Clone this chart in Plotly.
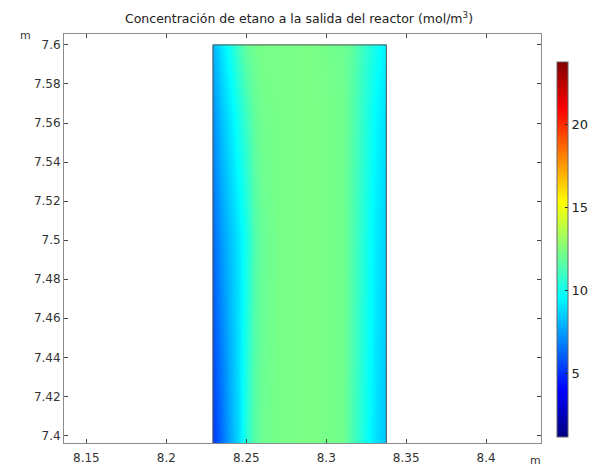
import plotly.graph_objects as go

# ---- data ----
# x positions (m) of sampled columns across the reactor outlet
x_cols = [8.2293, 8.2300, 8.235, 8.24, 8.245, 8.25, 8.255, 8.26, 8.27, 8.29,
          8.31, 8.316, 8.321, 8.326, 8.331, 8.3368, 8.3374]
# y positions (m) of sampled rows
y_rows = [7.385, 7.5, 7.565, 7.598, 7.5995]

# concentration (mol/m^3) per row (bottom -> top)
row_7385 = [5.3, 5.4, 6.5, 7.8, 8.9, 10.6, 11.7, 12.1, 12.3, 12.4, 12.2, 11.4, 10.6, 9.8, 9.0, 8.4, 8.3]
row_7500 = [6.4, 6.6, 7.6, 8.4, 9.2, 10.2, 11.5, 12.0, 12.3, 12.4, 12.2, 11.5, 10.8, 10.0, 9.3, 8.7, 8.6]
row_7565 = [7.3, 7.5, 8.5, 9.3, 10.2, 11.1, 11.9, 12.2, 12.3, 12.4, 12.2, 11.6, 11.0, 10.3, 9.6, 9.0, 8.9]
row_7598 = [8.1, 8.2, 9.2, 10.1, 11.1, 11.9, 12.2, 12.3, 12.3, 12.4, 12.1, 11.8, 11.2, 10.6, 10.0, 9.4, 9.3]
row_7600 = [8.2, 8.3, 9.3, 10.2, 11.2, 12.0, 12.2, 12.3, 12.3, 12.4, 12.1, 11.8, 11.2, 10.6, 10.0, 9.4, 9.3]

# domain of the outlet section (m)
domain_x = [8.2292, 8.3376]
domain_y_top = 7.6

# colour range
c_min, c_max = 1.2, 23.8
cbar_ticks = [5, 10, 15, 20]

x_ticks = [8.15, 8.2, 8.25, 8.3, 8.35, 8.4]
x_ticktext = ["8.15", "8.2", "8.25", "8.3", "8.35", "8.4"]
y_ticks = [7.4, 7.42, 7.44, 7.46, 7.48, 7.5, 7.52, 7.54, 7.56, 7.58, 7.6]
y_ticktext = ["7.4", "7.42", "7.44", "7.46", "7.48", "7.5", "7.52", "7.54", "7.56", "7.58", "7.6"]

title_text = "Concentración de etano a la salida del reactor (mol/m<sup>3</sup>)"

jet = [[0.0, "rgb(0,0,128)"], [0.125, "rgb(0,0,255)"], [0.375, "rgb(0,255,255)"],
       [0.625, "rgb(255,255,0)"], [0.875, "rgb(255,0,0)"], [1.0, "rgb(128,0,0)"]]

z = [row_7385, row_7500, row_7565, row_7598, row_7600]

W, H = 593, 470
ml, mr, mt, mb = 64, 1, 34, 26.7
pw = W - ml - mr
ph = H - mt - mb
plot_right = 540.5

fig = go.Figure()
fig.add_trace(go.Heatmap(
    x=x_cols, y=y_rows, z=z, zsmooth="best",
    colorscale=jet, zmin=c_min, zmax=c_max,
    colorbar=dict(
        thickness=11, thicknessmode="pixels",
        len=375, lenmode="pixels",
        x=(557 - ml) / pw, xanchor="left", xpad=0,
        y=(H - mb - 249.5) / ph, yanchor="middle", ypad=0,
        outlinewidth=1, outlinecolor="#666",
        tickvals=cbar_ticks, ticktext=[str(v) for v in cbar_ticks],
        ticks="inside", ticklen=3, tickcolor="#222",
        tickfont=dict(family="DejaVu Sans", size=13, color="#222"),
    ),
    hoverinfo="skip",
))

fig.add_shape(type="rect", x0=domain_x[0], x1=domain_x[1], y0=7.3, y1=domain_y_top,
              line=dict(color="#555", width=1), fillcolor="rgba(0,0,0,0)", layer="above")

axis_common = dict(
    showline=True, mirror="allticks", linecolor="#8c8c8c", linewidth=1,
    ticks="inside", ticklen=4, tickcolor="#444", tickwidth=1,
    showgrid=False, zeroline=False,
    tickfont=dict(family="DejaVu Sans", size=12, color="#333"),
)

fig.update_layout(
    width=W, height=H,
    margin=dict(l=ml, r=mr, t=mt, b=mb, pad=0),
    paper_bgcolor="white", plot_bgcolor="white",
    title=dict(text=title_text, x=299 / W, xanchor="center", y=1 - 19 / H, yanchor="middle",
               font=dict(family="DejaVu Sans", size=12.5, color="#222")),
    xaxis=dict(range=[8.136, 8.434], tickvals=x_ticks, ticktext=x_ticktext,
               domain=[0, (plot_right - ml) / pw], ticklabelstandoff=4, **axis_common),
    yaxis=dict(range=[7.3961, 7.6056], tickvals=y_ticks, ticktext=y_ticktext, **axis_common),
    showlegend=False,
)

fig.add_annotation(text="m", xref="paper", yref="paper", x=(25 - ml) / pw,
                   y=(H - mb - 36) / ph, showarrow=False, xanchor="center", yanchor="middle",
                   font=dict(family="DejaVu Sans", size=11, color="#333"))
fig.add_annotation(text="m", xref="paper", yref="paper", x=(535 - ml) / pw,
                   y=(H - mb - 461) / ph, showarrow=False, xanchor="center", yanchor="middle",
                   font=dict(family="DejaVu Sans", size=11, color="#333"))

fig.write_html("out.html")
